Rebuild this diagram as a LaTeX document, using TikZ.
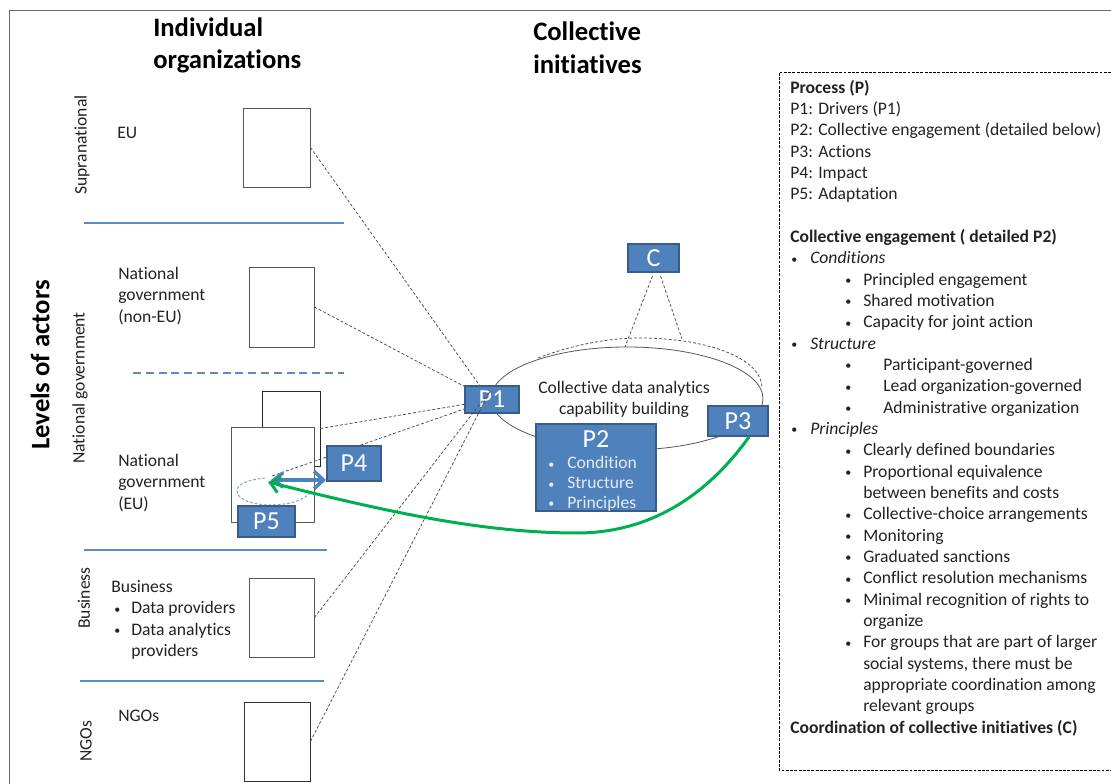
\documentclass[tikz,border=0pt]{standalone}
\usepackage{fontspec}
\setmainfont{Carlito}[Ligatures=NoCommon]
\usetikzlibrary{shapes.geometric,arrows.meta}
\newlength\pxu
\pxu=0.75pt
\newcommand\Bu{\raisebox{0.5pt}{\fontsize{9}{9}\selectfont •}}
\newcommand\Li[3]{\makebox[0pt][l]{\hspace*{#1\pxu}\Bu}\hspace*{#2\pxu}#3}
\definecolor{pblue}{HTML}{4F81BD}
\definecolor{pedge}{HTML}{385D8A}
\definecolor{rulecol}{HTML}{5B8CC8}
\definecolor{txt}{HTML}{222222}
\definecolor{pgreen}{HTML}{00B050}
\tikzset{
  x=0.75pt,y=-0.75pt,
  orgbox/.style={draw=black!65,line width=0.9*0.75pt,fill=white,inner sep=0},
  pbox/.style={draw=pedge,line width=2*0.75pt,fill=pblue,text=white,inner sep=0,font=\fontsize{19.5}{20}\selectfont},
  levelrule/.style={draw=rulecol,line width=1.4*0.75pt},
  link/.style={draw=black!70,line width=0.75*0.75pt,dash pattern=on 2.2pt off 1.5pt},
  lab/.style={inner sep=0,align=left,text=txt,font=\fontsize{13.2}{16}\selectfont},
  rot/.style={inner sep=0,text=txt,rotate=90,font=\fontsize{13.2}{16}\selectfont},
  head/.style={inner sep=0,align=left,text=black,font=\fontsize{20}{24.5}\selectfont\bfseries},
}
\begin{document}
\begin{tikzpicture}
\useasboundingbox (0,0) rectangle (1111,784);
% frame
\coordinate (fa) at (9,784); \coordinate (fb) at (9,11); \coordinate (fc) at (1111,11);
\draw[black!60,line width=0.75pt] (fa) -- (fb) -- (fc);
% titles
\node[head,anchor=west] (tind) at (153,45.5) {Individual\\organizations};
\node[head,anchor=west] (tcol) at (533,48) {Collective\\initiatives};
\node[head,rotate=90] (tlev) at (40,365) {Levels of actors};
% side labels
\node[rot] (lsup) at (82,145) {Supranational};
\node[rot] (lnat) at (80,388) {National government};
\node[rot] (lbus) at (84,598) {Business};
\node[rot] (lngo) at (86,741) {NGOs};
% level rules
\coordinate (r1a) at (84,223); \coordinate (r1b) at (344,223);
\coordinate (r2a) at (133,373); \coordinate (r2b) at (344,373);
\coordinate (r3a) at (84,550); \coordinate (r3b) at (327,550);
\coordinate (r4a) at (80,681); \coordinate (r4b) at (324,681);
\draw[levelrule] (r1a) -- (r1b);
\draw[levelrule,dash pattern=on 6pt off 3.6pt] (r2a) -- (r2b);
\draw[levelrule] (r3a) -- (r3b);
\draw[levelrule] (r4a) -- (r4b);
% actor labels
\node[lab,anchor=west] (aeu) at (117,133) {EU};
\node[lab,anchor=west] (anon) at (118,296) {National\\government\\(non-EU)};
\node[lab,anchor=west] (aeum) at (118,483) {National\\government\\(EU)};
\node[lab,anchor=west] (abus) at (111,620) {Business\\\Li{3}{20}{Data providers}\\\Li{3}{20}{Data analytics}\\\hspace*{20\pxu}providers};
\node[lab,anchor=west] (ango) at (118,716) {NGOs};
% organisation boxes
\node[orgbox,minimum width=67*0.75pt,minimum height=79*0.75pt] (beu) at (276.5,147.5) {};
\node[orgbox,minimum width=65*0.75pt,minimum height=80*0.75pt] (bnon) at (281.5,307) {};
\node[orgbox,draw=black!85,minimum width=58*0.75pt,minimum height=75*0.75pt] (bback) at (291,428.5) {};
\node[orgbox,minimum width=83*0.75pt,minimum height=95*0.75pt] (bfront) at (272.5,474.5) {};
\node[orgbox,minimum width=65*0.75pt,minimum height=79*0.75pt] (bbus) at (281.5,617.5) {};
\node[orgbox,draw=black!80,minimum width=66*0.75pt,minimum height=79*0.75pt] (bngo) at (277,741.5) {};
% ellipse
\node[ellipse,draw=black!65,line width=0.8*0.75pt,inner sep=0,minimum width=272*0.75pt,minimum height=103*0.75pt] (ell) at (627,398.5) {};
\node[inner sep=0,align=center,text=txt,font=\fontsize{13.2}{16}\selectfont] (etext) at (624,399.5) {Collective data analytics\\capability building};
\coordinate (dsa) at (538,358); \coordinate (dsb) at (640,338); \coordinate (dsc) at (762,387);
\draw[link] (dsa) .. controls (575,344) and (610,338) .. (dsb) .. controls (700,338) and (760,355) .. (dsc);
% links behind P1 and P4
\coordinate (hub) at (490,400);
\coordinate (hubt) at (490,391);
\coordinate (loopp) at (272,476);
\draw[link] (beu.east) -- (hub);
\draw[link] (bnon.east) -- (hub);
\draw[link] (bback.east) -- (hub);
\draw[link] (loopp) -- (hub);
% loop
\coordinate (la) at (265,478); \coordinate (lb) at (237,491); \coordinate (lc) at (270,505); \coordinate (ld) at (312,491);
\draw[draw=rulecol!80,line width=0.75pt,dash pattern=on 2pt off 1.5pt] (la) .. controls (245,480) and (237,485) .. (lb) .. controls (237,500) and (255,505) .. (lc) .. controls (290,505) and (305,500) .. (ld);
% process boxes
\node[pbox,minimum width=54*0.75pt,minimum height=27*0.75pt] (p1) at (492,399.5) {P1};
\node[pbox,minimum width=60*0.75pt,minimum height=30*0.75pt] (p3) at (738,421) {P3};
\node[pbox,minimum width=120*0.75pt,minimum height=87*0.75pt] (p2) at (596,467.5) {};
\node[inner sep=0,text=white,font=\fontsize{19.5}{20}\selectfont] (p2t) at (596,439) {P2};
\node[inner sep=0,align=left,text=white!85!pblue,anchor=west,font=\fontsize{13.2}{14.8}\selectfont] (p2l) at (548,484) {\Li{0}{19}{Condition}\\\Li{0}{19}{Structure}\\\Li{0}{19}{Principles}};
\node[pbox,minimum width=51*0.75pt,minimum height=28*0.75pt] (c) at (653.5,258) {C};
\node[pbox,minimum width=54*0.75pt,minimum height=35*0.75pt] (p4) at (354,463.5) {P4};
\node[pbox,minimum width=57*0.75pt,minimum height=31*0.75pt] (p5) at (266.5,521.5) {P5};
% links in front of P1
\draw[link] (bbus.east) -- (hubt);
\draw[link] (bngo.east) -- (hubt);
% links from C
\coordinate (ca) at (625,347); \coordinate (cb) at (682,339);
\draw[link] ([shift={(-1,3)}]c.south) -- (ca);
\draw[link] ([shift={(7,3)}]c.south) -- (cb);
% arrows
\coordinate (tip) at (268,482);
\coordinate (tipb) at (271,480);
\draw[draw=pblue,line width=3.5*0.75pt,{Straight Barb[length=7pt,width=11pt]}-{Straight Barb[length=7pt,width=13pt]}] (tipb) -- (p4.west |- tipb);
\draw[draw=pgreen,line width=3*0.75pt,-{Straight Barb[length=7pt,width=12pt]}] (p3.south) ++(11,0) .. controls (700,505) and (640,533) .. (577,533) .. controls (480,533) and (380,510) .. (tip);
% panel
\coordinate (pa) at (1111,72); \coordinate (pb) at (779,72); \coordinate (pc) at (779,770); \coordinate (pd) at (1111,770);
\draw[black,line width=0.8*0.75pt,dash pattern=on 2.2pt off 1pt] (pa) -- (pb) -- (pc) -- (pd);
\node[lab,anchor=west] (panel) at (790,408) {%
\textbf{Process (P)}\\
P1: Drivers (P1)\\
P2: Collective engagement (detailed below)\\
P3: Actions\\
P4: Impact\\
P5: Adaptation\\
\mbox{}\\
\textbf{Collective engagement ( detailed P2)}\\
\Li{1}{20}{\textit{Conditions}}\\
\Li{55}{73}{Principled engagement}\\
\Li{55}{73}{Shared motivation}\\
\Li{55}{73}{Capacity for joint action}\\
\Li{1}{20}{\textit{Structure}}\\
\Li{55}{93}{Participant-governed}\\
\Li{55}{93}{Lead organization-governed}\\
\Li{55}{93}{Administrative organization}\\
\Li{1}{20}{\textit{Principles}}\\
\Li{55}{73}{Clearly defined boundaries}\\
\Li{55}{73}{Proportional equivalence}\\
\hspace*{73\pxu}between benefits and costs\\
\Li{55}{73}{Collective-choice arrangements}\\
\Li{55}{73}{Monitoring}\\
\Li{55}{73}{Graduated sanctions}\\
\Li{55}{73}{Conflict resolution mechanisms}\\
\Li{55}{73}{Minimal recognition of rights to}\\
\hspace*{73\pxu}organize\\
\Li{55}{73}{For groups that are part of larger}\\
\hspace*{73\pxu}social systems, there must be\\
\hspace*{73\pxu}appropriate coordination among\\
\hspace*{73\pxu}relevant groups\\
\textbf{Coordination of collective initiatives (C)}};
\end{tikzpicture}
\end{document}
